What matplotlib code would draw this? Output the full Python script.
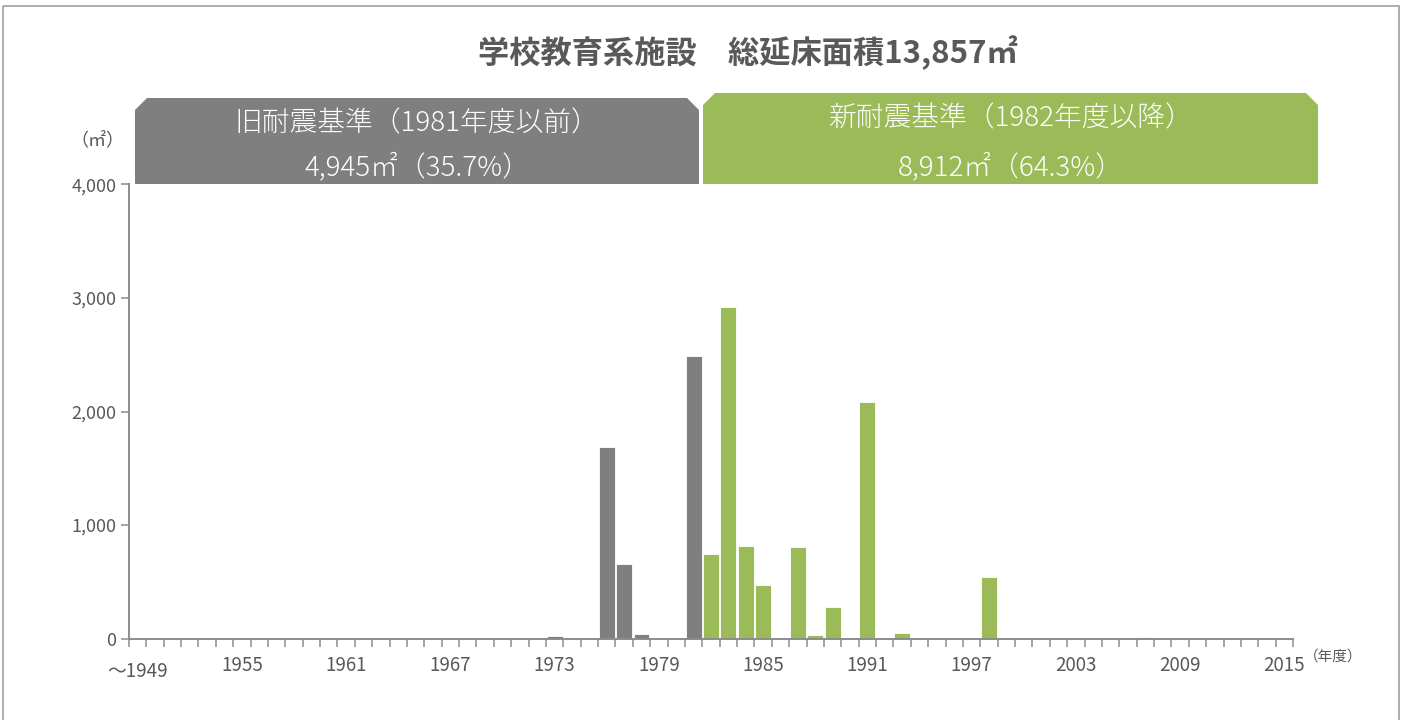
import matplotlib.pyplot as plt
from matplotlib.patches import Polygon, Rectangle

plt.rcParams['font.family'] = ['Noto Sans CJK JP', 'DejaVu Sans']

# 建築年度ごとの延床面積（㎡）
years = list(range(1949, 2016))
year_labels = ['～1949'] + [str(y) for y in years[1:]]

old_years = [1973, 1976, 1977, 1978, 1981]
old_area = [20, 1688, 655, 42, 2492]

new_years = [1982, 1983, 1984, 1985, 1987, 1988, 1989, 1991, 1993, 1998]
new_area = [750, 2922, 812, 477, 810, 30, 283, 2082, 52, 542]

other_years = [2007]
other_area = [15]

title = '学校教育系施設　総延床面積13,857㎡'
old_head = ['旧耐震基準（1981年度以前）', '4,945㎡（35.7%）']
new_head = ['新耐震基準（1982年度以降）', '8,912㎡（64.3%）']

GRAY = '#7f7f7f'
GREEN = '#9bbb59'
BLUE = '#a6bcdf'
TXT = '#595959'
AXC = '#8c8c8c'

W, H = 1403, 720
fig = plt.figure(figsize=(W / 100, H / 100), dpi=100)

# 背景レイヤー（ピクセル座標）
ov = fig.add_axes([0, 0, 1, 1], zorder=0)
ov.set_xlim(0, W)
ov.set_ylim(H, 0)
ov.axis('off')
ov.add_patch(Rectangle((3, 6), W - 7, H + 10, fill=False, ec='#a0a0a0', lw=1.2))

ax = fig.add_axes([129 / W, (H - 638.7) / H, 1164 / W, 454.4 / H], zorder=1)
ax.patch.set_alpha(0)

def idx(ys):
    return [years.index(y) for y in ys]

bw = 0.92
ax.bar(idx(old_years), old_area, width=bw, color=GRAY, ec='white', lw=0.6)
ax.bar(idx(new_years), new_area, width=bw, color=GREEN, ec='white', lw=0.6)
ax.bar(idx(other_years), other_area, width=bw, color=BLUE, ec='white', lw=0.6)

ax.set_xlim(-0.5, len(years) - 0.5)
ax.set_ylim(0, 4000)
ax.set_yticks([0, 1000, 2000, 3000, 4000])
ax.set_yticklabels([f'{v:,}' for v in [0, 1000, 2000, 3000, 4000]])

lab_idx = list(range(0, len(years), 6))
ax.set_xticks(lab_idx)
ax.set_xticklabels([year_labels[i] for i in lab_idx])
ax.set_xticks([i - 0.5 for i in range(len(years) + 1)], minor=True)
ax.tick_params(axis='x', which='major', length=0, pad=12, labelsize=13.5, labelcolor=TXT)
ax.tick_params(axis='x', which='minor', length=6, width=1.1, color=AXC, direction='out')
ax.tick_params(axis='y', length=6, width=1.1, color=AXC, labelsize=13, labelcolor=TXT, pad=3)
for lab in ax.get_xticklabels():
    if lab.get_text().startswith('～'):
        lab.set_y(-0.012)

for s in ['top', 'right']:
    ax.spines[s].set_visible(False)
for s in ['left', 'bottom']:
    ax.spines[s].set_color(AXC)
    ax.spines[s].set_linewidth(1.4)

# 見出し
ov.text(748, 53, title, ha='center', va='center', fontsize=22.5, fontweight='bold', color=TXT)

# 旧耐震／新耐震の区分帯
def band(x0, x1, y0, y1, c, lines):
    ch = 12
    pts = [(x0, y1), (x0, y0 + ch), (x0 + ch, y0), (x1 - ch, y0), (x1, y0 + ch), (x1, y1)]
    ov.add_patch(Polygon(pts, closed=True, fc=c, ec='none'))
    cx = (x0 + x1) / 2
    ov.text(cx, y0 + 25, lines[0], ha='center', va='center', fontsize=20,
            fontweight='light', color='white')
    ov.text(cx, y1 - 17, lines[1], ha='center', va='center', fontsize=20,
            fontweight='light', color='white')

band(135, 699, 98, 184, GRAY, old_head)
band(703, 1318, 93, 184, GREEN, new_head)

ov.text(97, 140, '（㎡）', ha='center', va='center', fontsize=13, color=TXT)
ov.text(1333, 657, '（年度）', ha='center', va='center', fontsize=10.5, color=TXT)

fig.savefig('out.png', dpi=100)
